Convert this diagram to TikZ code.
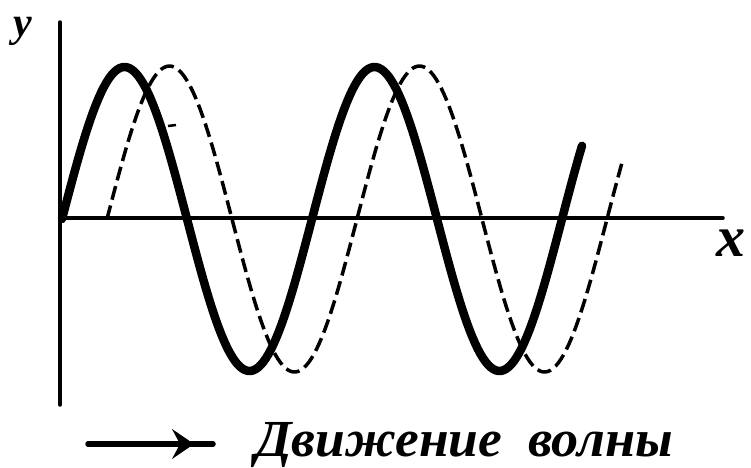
\documentclass[tikz,border=0pt]{standalone}
\usepackage{fontspec}
\setmainfont{Liberation Serif}
\usetikzlibrary{arrows.meta}
\begin{document}
\begin{tikzpicture}[x=1pt,y=-1pt,
  axis/.style={line width=3.5pt, line cap=round},
  solidwave/.style={line width=8.5pt, line cap=round, line join=round},
  dashwave/.style={line width=3.5pt, dash pattern=on 14pt off 6pt},
  lbl/.style={font=\fontsize{42}{42}\selectfont\bfseries\itshape, inner sep=0pt},
  txt/.style={anchor=base west, inner sep=0pt}]
\useasboundingbox (0,0) rectangle (751,467);
% axes
\coordinate (ytop) at (60,22);
\coordinate (ybot) at (60,405);
\coordinate (xl) at (60,218);
\coordinate (xr) at (723,218);
\draw[axis] (ytop) -- (ybot);
\draw[axis] (xl) -- (xr);
\node[lbl, anchor=base] (ylab) at (23,36) {y};
\node[lbl, anchor=base, font=\fontsize{58}{58}\selectfont\bfseries\itshape] (xlab) at (731,256) {x};
% solid wave
\draw[solidwave] plot[domain=62:582, samples=200, variable=\t] ({\t},{219-152*sin(1.44*(\t-62))});
% dashed wave
\draw[dashwave] plot[domain=107:623, samples=200, variable=\t] ({\t},{219-153*sin(1.44*(\t-107))});
% small stray tick
\coordinate (k1) at (168,126);
\coordinate (k2) at (176,125);
\draw[line width=2.5pt] (k1) -- (k2);
% direction arrow
\coordinate (a1) at (88,444);
\coordinate (a2) at (213,444);
\coordinate (a3) at (194,444);
\draw[line width=5.5pt, line cap=round] (a1) -- (a2);
\draw[line width=2pt, -{Stealth[length=22pt,width=30pt,inset=8pt]}] (a1) -- (a3);
\node[txt] (t1) at (255,456) {\resizebox{247pt}{\height}{\fontsize{52}{52}\selectfont\bfseries\itshape Движение}};
\node[txt] (t2) at (528,456) {\resizebox{145pt}{\height}{\fontsize{52}{52}\selectfont\bfseries\itshape волны}};
\end{tikzpicture}
\end{document}
